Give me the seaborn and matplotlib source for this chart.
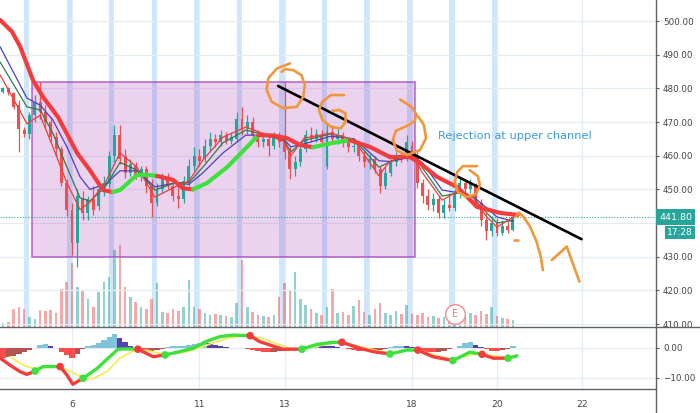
import numpy as np
import matplotlib
matplotlib.use("Agg")
import matplotlib.pyplot as plt
from matplotlib.lines import Line2D
from matplotlib.patches import Rectangle
import seaborn as sns

# ---------------- data ----------------
# x axis unit = one trading session; 8 bars per session
first_bar = -0.625
bar_step = 0.125

opens = [479.0, 480.0, 478.5, 475.0, 467.5, 466.5, 472.0, 476.0, 473.0, 470.0,
         465.5, 462.0, 452.0, 444.0, 434.0, 447.0, 443.0, 447.0, 445.0, 450.0,
         451.5, 460.0, 466.0, 460.0, 455.0, 457.0, 454.0, 456.0, 451.0, 446.0,
         450.0, 453.0, 451.0, 448.0, 447.0, 452.0, 457.0, 460.0, 459.0, 463.0,
         465.0, 464.0, 466.0, 464.5, 465.0, 471.0, 468.0, 470.0, 466.0, 464.0,
         465.0, 463.0, 465.5, 464.0, 461.0, 456.0, 458.0, 462.0, 466.0, 465.0,
         466.0, 457.0, 467.0, 465.0, 466.0, 464.0, 462.5, 463.0, 460.0, 458.0,
         459.0, 456.0, 451.0, 455.0, 458.0, 460.0, 459.0, 463.0, 460.0, 452.0,
         448.0, 445.5, 447.0, 443.0, 445.5, 444.5, 449.0, 452.0, 450.0, 451.5,
         446.0, 441.0, 437.5, 440.0, 437.0, 439.0, 438.0]
closes = [480.0, 479.0, 474.5, 468.0, 466.5, 472.0, 476.0, 473.0, 470.0, 465.5,
          462.0, 452.0, 444.0, 434.0, 448.0, 443.0, 447.0, 444.0, 450.0, 452.0,
          460.0, 466.0, 459.0, 455.0, 457.5, 454.0, 456.0, 451.0, 446.0, 450.0,
          453.0, 451.0, 448.0, 447.0, 452.5, 457.0, 460.0, 458.5, 463.0, 465.0,
          464.0, 466.0, 464.5, 465.5, 471.0, 468.0, 470.0, 466.0, 464.0, 465.0,
          463.0, 465.5, 464.0, 461.0, 456.0, 458.0, 462.0, 466.0, 465.0, 466.5,
          464.0, 467.0, 465.0, 466.0, 464.0, 462.5, 463.0, 460.0, 458.0, 459.0,
          456.0, 451.0, 455.0, 458.0, 460.0, 459.0, 464.0, 460.0, 452.0, 448.0,
          445.5, 447.0, 443.0, 445.5, 444.5, 449.0, 452.0, 450.0, 451.5, 446.0,
          441.0, 437.5, 440.0, 437.0, 439.0, 438.0, 441.8]
highs = [480.5, 480.5, 479.0, 476.5, 468.5, 473.0, 478.0, 482.0, 475.0, 471.5,
         467.0, 463.0, 453.0, 446.0, 450.0, 449.5, 448.0, 451.0, 452.0, 454.0,
         461.5, 469.0, 469.0, 462.0, 459.0, 458.0, 457.0, 457.0, 453.0, 452.0,
         455.0, 455.0, 453.0, 451.0, 454.0, 459.0, 462.5, 462.0, 465.0, 467.0,
         466.5, 467.5, 467.0, 467.0, 473.0, 474.5, 472.0, 471.5, 467.5, 467.0,
         466.5, 467.0, 467.0, 482.0, 462.5, 460.0, 463.0, 467.5, 468.5, 468.0,
         467.5, 469.5, 469.0, 468.0, 467.0, 465.0, 464.5, 464.0, 461.5, 460.5,
         460.0, 457.0, 456.5, 459.0, 461.0, 461.5, 466.0, 464.5, 461.0, 453.0,
         450.0, 449.0, 448.0, 447.0, 449.0, 450.0, 453.7, 453.0, 453.0, 452.0,
         447.0, 443.0, 442.0, 441.5, 441.0, 440.5, 443.0]
lows = [478.5, 478.0, 474.0, 461.0, 465.5, 465.0, 470.0, 471.0, 468.0, 464.0,
        460.0, 451.0, 442.0, 430.5, 427.0, 441.0, 441.0, 442.5, 444.0, 448.0,
        450.5, 458.0, 457.5, 453.5, 454.0, 453.0, 452.5, 449.0, 441.8, 445.0,
        449.0, 450.0, 446.5, 444.5, 446.0, 451.0, 455.5, 457.0, 458.0, 461.0,
        462.5, 463.0, 463.5, 463.5, 464.0, 466.0, 466.5, 465.0, 462.5, 462.5,
        460.0, 462.0, 462.5, 459.0, 453.0, 454.0, 457.0, 461.0, 464.0, 464.0,
        463.0, 456.0, 464.0, 463.5, 462.5, 461.0, 461.0, 458.5, 456.5, 456.0,
        455.0, 449.0, 450.0, 454.0, 457.0, 458.0, 458.5, 459.0, 450.5, 446.0,
        444.0, 443.5, 441.5, 441.5, 443.5, 443.5, 447.5, 448.0, 449.0, 445.0,
        439.0, 435.0, 436.0, 436.0, 436.5, 437.0, 437.5]
volumes = [4, 5, 18, 20, 18, 10, 8, 17, 16, 17,
           14, 38, 45, 64, 40, 36, 28, 20, 35, 45,
           50, 77, 82, 40, 30, 25, 20, 18, 28, 44,
           15, 14, 18, 16, 20, 47, 20, 18, 14, 12,
           13, 12, 11, 10, 24, 67, 20, 15, 12, 11,
           10, 12, 30, 44, 37, 55, 28, 22, 18, 14,
           12, 20, 38, 14, 15, 12, 21, 27, 15, 12,
           18, 24, 14, 12, 16, 13, 22, 13, 12, 14,
           10, 11, 9, 10, 8, 10, 9, 11, 14, 12,
           16, 13, 20, 11, 9, 8, 7]
last_price = 441.8

# moving-average ribbon (thin lines)
ribbon_t = [-0.69, -0.06, 0.25, 0.55, 0.88, 1.19, 1.42, 1.78, 2.13, 2.53, 2.95,
            3.42, 3.75, 4.08, 4.55, 5.09, 5.52, 5.99, 6.15, 6.46, 7.09, 7.64,
            8.22, 8.46, 8.77, 9.00, 9.24, 9.71, 10.13, 10.44, 10.76, 11.00, 11.38]
ema_fast = [484.0, 469.5, 472.0, 462.6, 451.9, 444.0, 446.2, 451.9, 460.8, 456.6, 447.7,
            450.7, 452.5, 458.7, 465.5, 468.5, 466.5, 464.2, 460.0, 465.2, 466.7, 464.6,
            454.0, 458.1, 460.0, 461.0, 455.0, 446.8, 449.8, 447.7, 441.8, 438.8, 441.8]
ema_mid = [487.8, 474.5, 473.6, 466.7, 456.6, 447.5, 446.5, 450.7, 458.0, 455.7, 449.8,
           451.9, 452.0, 456.6, 463.8, 467.6, 466.3, 464.6, 461.1, 464.5, 466.5, 464.8,
           456.6, 458.0, 459.6, 460.8, 456.5, 448.0, 449.0, 447.5, 443.0, 440.0, 440.8]
ema_slow = [492.3, 477.1, 475.0, 470.6, 462.6, 453.7, 450.0, 451.5, 455.5, 455.5, 450.7,
            451.9, 451.5, 454.9, 460.8, 466.1, 466.1, 464.8, 462.6, 463.5, 465.8, 465.0,
            458.5, 458.3, 459.0, 460.0, 458.0, 449.8, 448.9, 447.8, 444.5, 441.8, 440.5]

# thick trend MA (green while rising)
trend_ma_t = [-0.69, -0.41, -0.22, 0.08, 0.32, 0.67, 1.12, 1.42, 1.73, 1.96, 2.13, 2.53,
              2.76, 3.00, 3.38, 3.61, 3.85, 4.18, 4.65, 5.12, 5.38, 5.73, 6.06, 6.36,
              6.67, 7.14, 7.54, 8.01, 8.48, 8.95, 9.19, 9.59, 10.06, 10.53, 11.07, 11.49]
trend_ma_v = [500.3, 496.8, 492.4, 482.5, 477.4, 471.5, 460.8, 455.7, 449.8, 449.2, 449.8, 454.3,
              454.3, 454.0, 452.8, 450.3, 450.0, 451.9, 456.6, 462.6, 466.1, 466.0, 465.2, 463.2,
              462.5, 463.8, 464.6, 462.6, 459.6, 459.6, 457.8, 453.7, 450.7, 444.8, 443.0, 442.4]
trend_ma_rising = [0, 0, 0, 0, 0, 0, 0, 0, 0, 1, 1, 1,
                   1, 0, 0, 0, 1, 1, 1, 1, 0, 0, 0, 0,
                   1, 1, 0, 0, 0, 0, 0, 0, 0, 0, 0, 0]

# MACD panel
macd_t = [-0.69, -0.46, -0.22, -0.06, 0.13, 0.32, 0.53, 0.72, 0.88, 1.02, 1.26, 1.59,
          1.89, 2.08, 2.29, 2.55, 2.91, 3.19, 3.54, 3.85, 4.18, 4.48, 4.79, 5.19,
          5.42, 5.96, 6.41, 6.76, 7.14, 7.35, 7.78, 8.08, 8.48, 8.88, 9.14, 9.49,
          9.96, 10.36, 10.65, 10.91, 11.26, 11.47]
macd_v = [-3.5, -5.8, -8.0, -8.9, -7.8, -6.3, -6.3, -6.3, -9.1, -12.2, -10.2, -6.9,
          -3.0, -0.5, -0.4, -0.5, -3.0, -2.4, -1.3, -0.2, 2.2, 3.7, 4.2, 4.0,
          2.0, -0.5, -0.5, 1.1, 1.8, 1.8, -0.2, -1.3, -2.1, -0.8, -0.8, -3.0,
          -4.3, -1.5, -2.2, -3.5, -3.5, -2.7]
macd_cross = ['', '', '', '', 'up', '', '', 'down', '', '', 'up', '',
              '', '', '', 'down', '', 'up', '', '', '', '', '', 'down',
              '', '', 'up', '', '', 'down', '', '', 'up', '', 'down', '',
              'up', '', 'down', '', 'up', '']
signal_t = [-0.46, -0.15, 0.08, 0.48, 0.72, 0.88, 1.26, 1.49, 1.82, 2.13, 2.44, 2.76,
            3.24, 3.71, 4.18, 4.65, 5.02, 5.42, 6.13, 6.41, 6.99, 7.35, 7.78, 8.48,
            8.95, 9.14, 9.66, 9.96, 10.44, 10.67, 11.07, 11.26, 11.47]
signal_v = [-3.0, -5.8, -6.9, -6.5, -6.3, -7.4, -10.0, -10.4, -8.0, -3.5, -1.1, -0.9,
            -2.4, -1.3, 0.9, 3.1, 4.0, 3.3, -0.2, -0.5, 1.1, 1.8, 0.3, -1.9,
            -0.5, -0.8, -3.0, -3.9, -2.2, -2.2, -3.0, -3.5, -2.7]
macd_hist = [-3.4, -3.1, -2.7, -2.2, -1.6, -0.9, -0.2, 1.0, 1.2, 0.4,
             -0.2, -1.4, -2.6, -3.5, -2.0, -0.5, 0.4, 0.8, 1.6, 2.4,
             3.5, 4.5, 3.3, 1.8, 0.6, -0.6, -1.0, -1.2, -1.0, -0.8,
             -0.4, 0.2, 0.4, 0.6, 0.7, 0.9, 1.2, 1.6, 2.2, 1.6,
             1.0, 0.6, 0.2, 0.0, 0.0, 0.0, -0.3, -0.7, -1.0, -1.3,
             -1.4, -1.3, -1.2, -1.0, -0.8, -0.6, -0.2, 0.4, 0.8, 1.0,
             0.8, 0.7, 0.5, 0.3, -0.2, -0.5, -0.8, -1.0, -1.0, -1.1,
             -0.9, -0.7, -0.3, 0.3, 0.6, 0.7, 0.5, 0.2, -0.5, -1.1,
             -1.4, -1.5, -1.3, -1.0, -0.6, -0.2, 0.7, 1.7, 2.0, 1.0,
             0.2, -0.6, -1.0, -1.1, -0.9, -0.5, 0.5]

# axes labels
session_starts = list(range(12))
day_ticks = [1, 4, 6, 9, 11, 13]
day_labels = ['6', '11', '13', '18', '20', '22']
price_ticks = [410, 420, 430, 450, 460, 470, 480, 490, 500]
macd_ticks = [0, -10]

# drawings
channel_t = [0.07, 9.08]
channel_p = [429.8, 481.8]
trendline_t = [5.85, 12.99]
trendline_p = [480.7, 435.2]
note_text = 'Rejection at upper channel'
note_t, note_p = 9.61, 465.85
earnings_t, earnings_p = 10.01, 413.0
scribbles = [
    ([6.13, 5.82, 5.62, 5.58, 5.70, 5.97, 6.29, 6.44, 6.48, 6.40, 6.21, 6.01, 5.93],
     [487.4, 485.9, 483.0, 479.5, 476.0, 474.1, 474.5, 477.5, 481.0, 483.9, 485.4, 485.7, 484.9]),
    ([7.40, 7.09, 6.89, 6.81, 6.89, 7.09, 7.32, 7.44, 7.43, 7.28, 7.12],
     [478.0, 478.0, 476.0, 473.6, 470.6, 468.6, 468.1, 470.1, 472.6, 473.6, 473.3]),
    ([8.72, 8.99, 9.11, 9.05, 8.84, 8.62, 8.55, 8.64, 8.89, 9.19, 9.33, 9.28, 9.15],
     [476.7, 474.5, 472.1, 470.1, 468.6, 467.4, 464.7, 461.5, 460.2, 461.7, 465.2, 469.1, 471.6]),
    ([10.53, 10.20, 10.06, 10.01, 10.08, 10.29, 10.51, 10.60, 10.55, 10.36],
     [456.9, 456.9, 455.1, 452.2, 449.2, 447.7, 448.6, 451.3, 453.9, 455.7]),
    ([11.44, 11.52, 11.62, 11.78, 11.93, 12.03, 12.08],
     [441.9, 443.1, 441.9, 438.9, 434.5, 430.0, 426.0]),
    ([12.29, 12.64, 12.94], [429.0, 433.0, 422.6]),
    ([11.40, 11.49], [434.9, 434.9]),
]

# ---------------- figure ----------------
sns.set_theme(style="white")
plt.rcParams['font.family'] = ['DejaVu Sans']

W, H = 700, 413
fig = plt.figure(figsize=(7, 4.13), dpi=100)
fig.patch.set_facecolor('white')
main_rect = [0, 86 / H, 656 / W, 327 / H]
macd_rect = [0, 24 / H, 656 / W, 62 / H]
ax_vol = fig.add_axes(main_rect)
ax = fig.add_axes(main_rect, sharex=ax_vol)
ax_m = fig.add_axes(macd_rect, sharex=ax_vol)
ax_vol.set_zorder(0)
ax.set_zorder(1)
ax_m.set_zorder(1)
ax.patch.set_visible(False)

n = len(closes)
bar_x = first_bar + bar_step * np.arange(n)
o = np.array(opens); c = np.array(closes); hi = np.array(highs); lo = np.array(lows)
UP, DOWN = '#26a69a', '#f0504d'
cols = [UP if cc >= oo else DOWN for oo, cc in zip(o, c)]

# background: session bands and grid
grid_col = '#e4ecf4'
for k in session_starts:
    ax_vol.axvspan(k - 0.125, k, color='#bcdcf8', alpha=0.7, lw=0, zorder=0)
for t in day_ticks:
    ax_vol.axvline(t, color=grid_col, lw=0.9, zorder=0.5)
    ax_m.axvline(t, color=grid_col, lw=0.9, zorder=0)

# volume
ax_vol.bar(bar_x, volumes, width=0.06, color=cols, alpha=0.5, lw=0, zorder=1)
ax_vol.set_ylim(0, 327)
ax_vol.set_axis_off()

# price panel
for p in range(410, 510, 10):
    ax.axhline(p, color=grid_col, lw=0.9, zorder=0)
ax.add_patch(Rectangle((channel_t[0], channel_p[0]), channel_t[1] - channel_t[0],
                       channel_p[1] - channel_p[0], facecolor=(0.612, 0.153, 0.690, 0.2),
                       edgecolor=(0.612, 0.153, 0.690, 0.7), lw=1.1, zorder=1))
ax.axhline(last_price, color='#26a69a', lw=0.8, ls=(0, (1, 1.5)), zorder=2)

ax.vlines(bar_x, lo, hi, colors=cols, lw=0.9, zorder=3)
body_bottom = np.minimum(o, c)
body_h = np.maximum(np.abs(c - o), 0.3)
ax.bar(bar_x, body_h, bottom=body_bottom, width=0.07, color=cols, lw=0, zorder=3.5)

sns.lineplot(x=ribbon_t, y=ema_slow, ax=ax, color='#4b3fbf', linewidth=0.9,
             estimator=None, sort=False, legend=False, zorder=4)
sns.lineplot(x=ribbon_t, y=ema_mid, ax=ax, color='#2f7a50', linewidth=0.9,
             estimator=None, sort=False, legend=False, zorder=4)
sns.lineplot(x=ribbon_t, y=ema_fast, ax=ax, color='#f03c3c', linewidth=0.9,
             estimator=None, sort=False, legend=False, zorder=4)

# thick trend MA, split into colour runs
start = 0
for k in range(1, len(trend_ma_t)):
    if k == len(trend_ma_t) - 1 or trend_ma_rising[k] != trend_ma_rising[start]:
        col = '#3ee03e' if trend_ma_rising[start] else '#f53b3b'
        sns.lineplot(x=trend_ma_t[start:k + 1], y=trend_ma_v[start:k + 1], ax=ax,
                     color=col, linewidth=3.0, estimator=None, sort=False,
                     legend=False, zorder=5, solid_capstyle='round')
        start = k

ax.plot(trendline_t, trendline_p, color='black', lw=1.9, zorder=6, solid_capstyle='round')
for ts, ps in scribbles:
    ax.plot(ts, ps, color='#f0973b', lw=1.9, zorder=7,
            solid_capstyle='round', solid_joinstyle='round')
ax.text(note_t, note_p, note_text, color='#3a9be0', fontsize=8.2, ha='left',
        va='center', zorder=8)
ax.scatter([earnings_t], [earnings_p], s=200, facecolor='white', edgecolor='#f28c8c',
           lw=1.0, zorder=8)
ax.text(earnings_t, earnings_p, 'E', color='#ef7b7b', fontsize=7, ha='center',
        va='center', zorder=9)

ax.set_ylim(409.12, 506.24)
ax_vol.set_xlim(-0.694, 14.741)
ax.yaxis.tick_right()
ax.set_yticks(price_ticks)
ax.set_yticklabels([f'{v:.2f}' for v in price_ticks])
ax.tick_params(axis='y', length=2.5, width=0.8, color='#555555', labelsize=6.3,
               labelcolor='#444444', pad=2.5, right=True, left=False)
ax.tick_params(axis='x', bottom=False, labelbottom=False)
for s in ax.spines.values():
    s.set_visible(False)

# MACD panel
hist_colors = []
for i, v in enumerate(macd_hist):
    prev = macd_hist[i - 1] if i > 0 else v
    if v >= 0:
        hist_colors.append('#7fc4dc' if v >= prev else '#5a3fb0')
    else:
        hist_colors.append('#b05550' if v > prev else '#ff4d4d')
ax_m.axhline(0, color=grid_col, lw=0.9, zorder=0)
ax_m.axhline(-10, color=grid_col, lw=0.9, zorder=0)
ax_m.bar(bar_x, macd_hist, width=0.125, color=hist_colors, lw=0, zorder=2)
sns.lineplot(x=signal_t, y=signal_v, ax=ax_m, color='#f6ea5c', linewidth=1.3,
             estimator=None, sort=False, legend=False, zorder=3)
state = 'down'
seg_start = 0
for k in range(1, len(macd_t)):
    new_state = macd_cross[k] if macd_cross[k] else state
    if new_state != state or k == len(macd_t) - 1:
        col = '#3ee03e' if state == 'up' else '#f53b3b'
        sns.lineplot(x=macd_t[seg_start:k + 1], y=macd_v[seg_start:k + 1], ax=ax_m,
                     color=col, linewidth=2.4, estimator=None, sort=False,
                     legend=False, zorder=4, solid_capstyle='round')
        seg_start = k
        state = new_state
cross_t = [t for t, cr in zip(macd_t, macd_cross) if cr]
cross_v = [v for v, cr in zip(macd_v, macd_cross) if cr]
cross_c = ['#3ee03e' if cr == 'up' else '#f53b3b' for cr in macd_cross if cr]
sns.scatterplot(x=cross_t, y=cross_v, ax=ax_m, color=cross_c, s=30, edgecolor='none',
                legend=False, zorder=5)

ax_m.set_ylim(-13.77, 6.9)
ax_m.yaxis.tick_right()
ax_m.set_yticks(macd_ticks)
ax_m.set_yticklabels(['0.00', '\u221210.00'])
ax_m.tick_params(axis='y', length=2.5, width=0.8, color='#555555', labelsize=6.3,
                 labelcolor='#444444', pad=2.5, right=True, left=False)
ax_m.set_xticks(day_ticks)
ax_m.set_xticklabels(day_labels)
ax_m.tick_params(axis='x', length=0, pad=8, labelsize=6.6, labelcolor='#444444')
for name, s in ax_m.spines.items():
    s.set_visible(name == 'bottom')
ax_m.spines['bottom'].set_color('#5f6368')
ax_m.spines['bottom'].set_linewidth(1.0)

# panel separators
fig.add_artist(Line2D([656 / W, 656 / W], [0, 1], color='#5f6368', lw=1.0))
fig.add_artist(Line2D([0, 1], [86 / H, 86 / H], color='#5f6368', lw=1.0))

# last-price labels
fig.text(659 / W, 1 - 217 / H, f'{last_price:.2f}', color='white', fontsize=6.8,
         ha='left', va='center',
         bbox=dict(boxstyle='square,pad=0.35', fc='#26a69a', ec='none'))
fig.text(667 / W, 1 - 232.5 / H, '17:28', color='white', fontsize=6.5,
         ha='left', va='center',
         bbox=dict(boxstyle='square,pad=0.25', fc='#26a69a', ec='none'))

fig.savefig('out.png', dpi=100, facecolor='white')
